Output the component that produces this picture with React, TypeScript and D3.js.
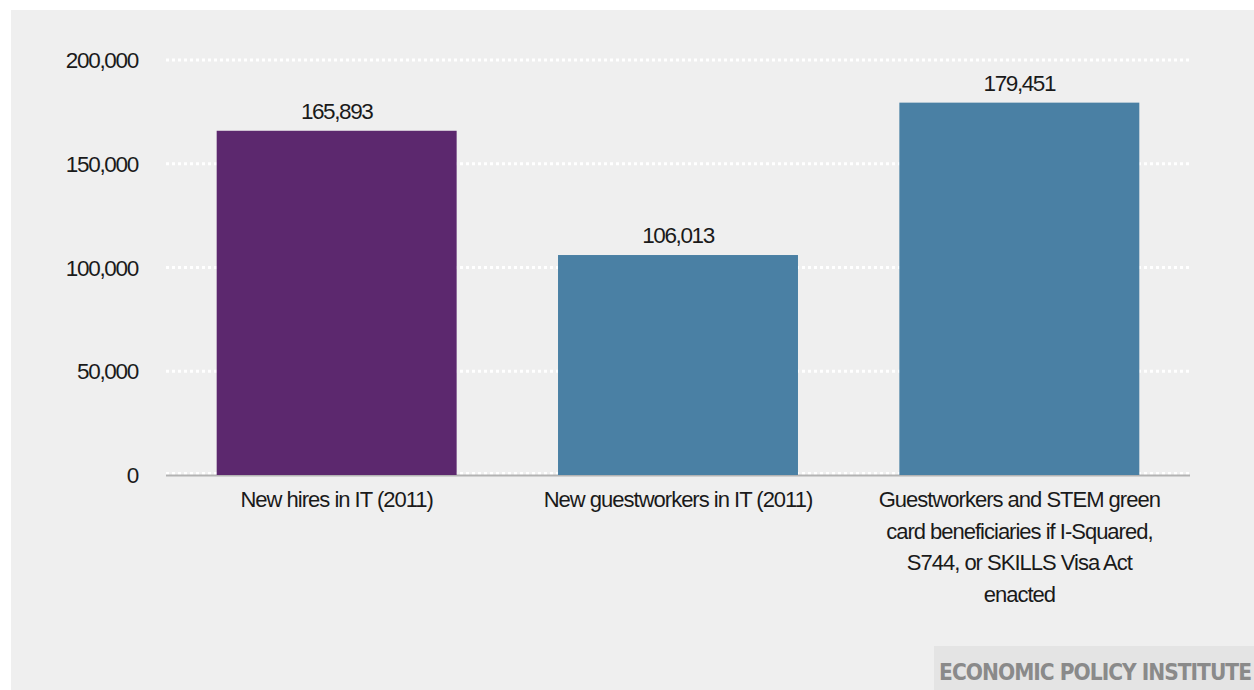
import React from "react";
import * as d3 from "d3";

const categories = [
  ["New hires in IT (2011)"],
  ["New guestworkers in IT (2011)"],
  [
    "Guestworkers and STEM green",
    "card beneficiaries if I-Squared,",
    "S744, or SKILLS Visa Act",
    "enacted",
  ],
];
const values = [165893, 106013, 179451];
const barColors = ["#5c286e", "#4a80a4"];
const yTicks = [0, 50000, 100000, 150000, 200000];

const W = 1254;
const H = 690;

export default function App() {
  const x = d3
    .scaleBand<number>()
    .domain(values.map((_, i) => i))
    .range([166, 1190])
    .paddingInner(0.297)
    .paddingOuter(0.1485);
  const y = d3.scaleLinear().domain([0, 200000]).range([475, 60]);
  const fmt = d3.format(",");
  const font = "'Liberation Sans', Arial, sans-serif";

  return (
    <svg
      width={W}
      height={H}
      style={{ position: "absolute", left: 0, top: 0 }}
      fontFamily={font}
    >
      <rect x={0} y={0} width={W} height={H} fill="#ffffff" />
      <rect x={11} y={10} width={W - 11} height={H - 10} fill="#efefef" />
      {yTicks.map((t) => (
        <g key={t}>
          <line
            x1={166}
            x2={1190}
            y1={y(t) - (t === 0 ? 1.5 : 0)}
            y2={y(t) - (t === 0 ? 1.5 : 0)}
            stroke="#ffffff"
            strokeWidth={3}
            strokeDasharray="3,3"
          />
          <text
            x={138}
            y={y(t)}
            dy="0.36em"
            textAnchor="end"
            fontSize={22.5}
            letterSpacing={-1.3}
            fill="#1a1a1a"
          >
            {fmt(t)}
          </text>
        </g>
      ))}
      <line x1={166} x2={1190} y1={y(0) + 0.5} y2={y(0) + 0.5} stroke="#b3b3b3" strokeWidth={2} />
      {values.map((v, i) => (
        <g key={i}>
          <rect
            x={x(i)}
            y={y(v)}
            width={x.bandwidth()}
            height={y(0) - y(v)}
            fill={i === 0 ? barColors[0] : barColors[1]}
          />
          <text
            x={(x(i) as number) + x.bandwidth() / 2}
            y={y(v) - 12}
            textAnchor="middle"
            fontSize={22.5}
            letterSpacing={-1.4}
            fill="#1a1a1a"
          >
            {fmt(v)}
          </text>
          {categories[i].map((line, j) => (
            <text
              key={j}
              x={(x(i) as number) + x.bandwidth() / 2}
              y={507 + j * 31.7}
              textAnchor="middle"
              fontSize={22}
              letterSpacing={-1}
              fill="#1a1a1a"
            >
              {line}
            </text>
          ))}
        </g>
      ))}
      <rect x={934} y={646} width={W - 934} height={H - 646} fill="#e4e4e4" />
      <text
        x={1251}
        y={680}
        textAnchor="end"
        fontSize={22.5}
        fontWeight="bold"
        letterSpacing={-1}
        fontFamily="'DejaVu Sans Condensed', 'DejaVu Sans', sans-serif"
        fill="#8a8a8a"
      >
        ECONOMIC POLICY INSTITUTE
      </text>
    </svg>
  );
}
